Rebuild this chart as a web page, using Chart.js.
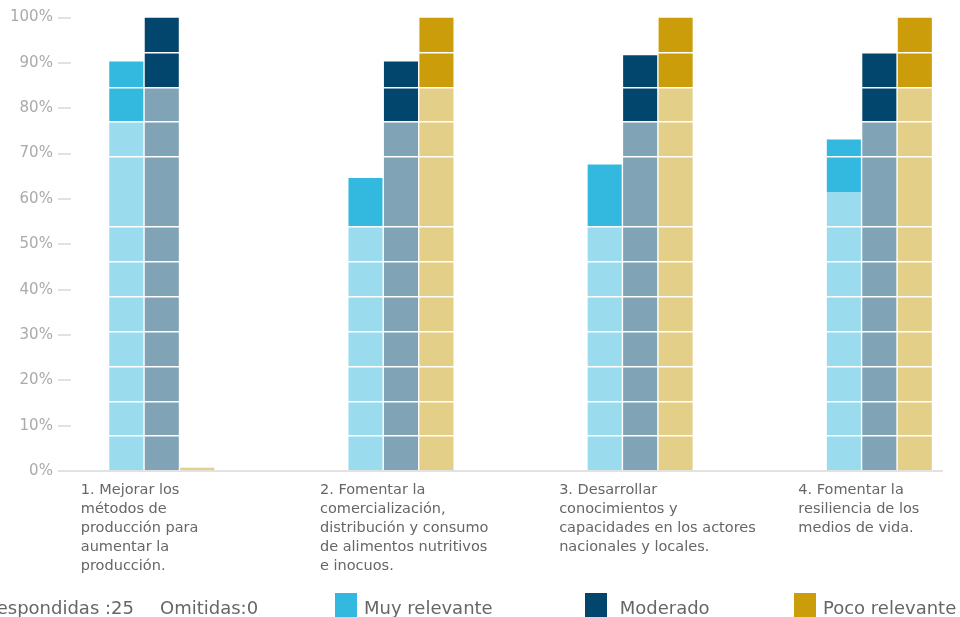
<!DOCTYPE html>
<html lang="es">
<head>
<meta charset="utf-8">
<title>Relevancia de los objetivos</title>
<script src="https://cdn.jsdelivr.net/npm/chart.js@4.4.1/dist/chart.umd.min.js"></script>
<style>
  body { margin: 0; background: #fff; font-family: "DejaVu Sans", sans-serif; }
  #wrap { position: relative; width: 960px; height: 617px; overflow: hidden; }
  #chart { position: absolute; left: 0; top: 0; }
  #legend { position: absolute; left: 0; top: 594px; width: 960px; height: 23px; color: #666; font-size: 18px; }
  #legend span { position: absolute; top: 0; white-space: pre; line-height: 27px; }
  #legend .box { display: inline-block; width: 22px; height: 24px; vertical-align: top; margin-top: -1px; margin-right: 7px; }
  #respondidas { left: -15px; }
  #omitidas { left: 160px; }
  #legend .item:nth-of-type(3) { left: 335px; }
  #legend .item:nth-of-type(4) { left: 585px; }
  #legend .item:nth-of-type(5) { left: 794px; }
</style>
</head>
<body>
<div id="wrap">
  <canvas id="chart" width="960" height="617"></canvas>
  <div id="legend"></div>
</div>
<script>
// ================= DATA =================
const categories = [
    ["1. Mejorar los", "métodos de", "producción para", "aumentar la", "producción."],
    ["2. Fomentar la", "comercialización,", "distribución y consumo", "de alimentos nutritivos", "e inocuos."],
    ["3. Desarrollar", "conocimientos y", "capacidades en los actores", "nacionales y locales."],
    ["4. Fomentar la", "resiliencia de los", "medios de vida."]
];
const seriesNames = ["Muy relevante", " Moderado", "Poco relevante"];

// lower (light) part and upper (dark) part of each bar, in %
const muyBase = [76.9, 53.8, 53.8, 61.5];
const muyTop = [13.4, 10.8, 13.8, 11.6];
const modBase = [84.6, 76.9, 76.9, 76.9];
const modTop = [15.4, 13.4, 14.8, 15.35];
const pocoBase = [0.7, 84.6, 84.6, 84.6];
const pocoTop = [0, 15.4, 15.4, 15.4];

const yTicks = [0, 10, 20, 30, 40, 50, 60, 70, 80, 90, 100];
const respondidas = 25;
const omitidas = 0;

// ================= STYLE =================
const lightColors = ["#9adcee", "#80a3b5", "#e4cf89"];
const darkColors = ["#33b8e0", "#02466e", "#cb9d0b"];
const FONT = '"DejaVu Sans", sans-serif';

Chart.defaults.font.family = FONT;

function barSet(label, data, color, stack) {
    return {
        label, data, stack,
        backgroundColor: color,
        borderWidth: 0,
        categoryPercentage: 0.445,
        barPercentage: 0.96
    };
}

const datasets = [
    barSet(seriesNames[0], muyBase, lightColors[0], "muy"),
    barSet(seriesNames[0], muyTop, darkColors[0], "muy"),
    barSet(seriesNames[1], modBase, lightColors[1], "mod"),
    barSet(seriesNames[1], modTop, darkColors[1], "mod"),
    barSet(seriesNames[2], pocoBase, lightColors[2], "poco"),
    barSet(seriesNames[2], pocoTop, darkColors[2], "poco")
];

// white separators across the bars (every 1/13, one missing)
const sepCount = 13;
const sepHidden = [0, 8, 13];

// ================= CHART =================
new Chart(document.getElementById("chart"), {
    type: "bar",
    data: {
        labels: categories.map((c, i) => i),
        datasets
    },
    options: {
        responsive: false,
        animation: false,
        layout: { padding: { top: 17.5, right: 18, bottom: 31, left: 5 } },
        plugins: {
            legend: { display: false },
            tooltip: { enabled: false }
        },
        scales: {
            x: {
                type: "linear",
                offset: false,
                min: -0.38,
                max: 3.262,
                afterBuildTicks: s => { s.ticks = categories.map((c, i) => ({ value: i })); },
                afterFit: s => { s.paddingLeft = 0; s.paddingRight = 0; },
                grid: { display: false, drawTicks: false, offset: false },
                border: { color: "#e2e2e2", width: 2 },
                ticks: {
                    autoSkip: false,
                    maxRotation: 0,
                    align: "start",
                    labelOffset: -81,
                    padding: 10,
                    color: "#666",
                    font: { size: 14.5, lineHeight: 1.31 },
                    callback: v => categories[v]
                }
            },
            y: {
                stacked: true,
                min: 0,
                max: 100,
                afterBuildTicks: s => { s.ticks = yTicks.map(v => ({ value: v })); },
                grid: { drawOnChartArea: false, color: "#e2e2e2", lineWidth: 2, tickLength: 13 },
                border: { display: false },
                ticks: {
                    padding: 5,
                    color: "#aaa",
                    font: { size: 15 },
                    callback: v => v + "%"
                }
            },
            sep: {
                type: "linear",
                position: "right",
                min: 0,
                max: 100,
                afterBuildTicks: s => {
                    s.ticks = [];
                    for (let k = 0; k <= sepCount; k++) s.ticks.push({ value: k * 100 / sepCount });
                },
                ticks: { display: false },
                border: { display: false },
                grid: {
                    z: 1,
                    drawTicks: false,
                    lineWidth: 1.5,
                    color: ctx => sepHidden.includes(ctx.index) ? "rgba(0,0,0,0)" : "#fff"
                }
            }
        }
    }
});

// ================= LEGEND =================
const legend = document.getElementById("legend");
legend.innerHTML = `<span id="respondidas">Respondidas :${respondidas}</span>` +
    `<span id="omitidas">Omitidas:${omitidas}</span>` +
    seriesNames.map((name, i) =>
        `<span class="item"><i class="box" style="background:${darkColors[i]}"></i>${name}</span>`
    ).join("");
</script>
</body>
</html>
